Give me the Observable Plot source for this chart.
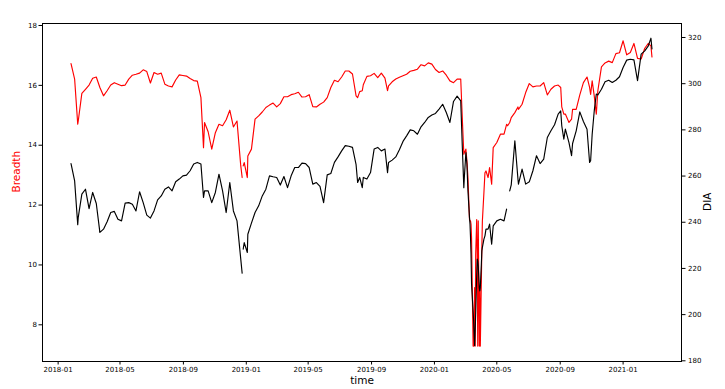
<!DOCTYPE html>
<html>
<head>
<meta charset="utf-8">
<script src="https://cdn.jsdelivr.net/npm/d3@7"></script>
<script src="https://cdn.jsdelivr.net/npm/@observablehq/plot@0.6"></script>
<style>
  body { margin: 0; background: #fff; }
</style>
</head>
<body>
<div id="chart"></div>
<script>
const dates = [
"2018-01-26","2018-02-02","2018-02-08","2018-02-09","2018-02-16","2018-02-23","2018-03-02","2018-03-09","2018-03-16","2018-03-23",
"2018-03-30","2018-04-06","2018-04-13","2018-04-20","2018-04-27","2018-05-04","2018-05-11","2018-05-18","2018-05-25","2018-06-01",
"2018-06-08","2018-06-15","2018-06-22","2018-06-29","2018-07-06","2018-07-13","2018-07-20","2018-07-27","2018-08-03","2018-08-10",
"2018-08-17","2018-08-24","2018-08-31","2018-09-07","2018-09-14","2018-09-21","2018-09-28","2018-10-05","2018-10-10","2018-10-12",
"2018-10-19","2018-10-26","2018-11-02","2018-11-09","2018-11-16","2018-11-23","2018-11-30","2018-12-07","2018-12-14","2018-12-21",
"2018-12-24","2018-12-25","2018-12-26","2018-12-28","2019-01-03","2019-01-04","2019-01-11","2019-01-18","2019-01-25","2019-02-01",
"2019-02-08","2019-02-15","2019-02-22","2019-03-01","2019-03-08","2019-03-15","2019-03-22","2019-03-29","2019-04-05","2019-04-12",
"2019-04-19","2019-04-26","2019-05-03","2019-05-10","2019-05-17","2019-05-24","2019-05-31","2019-06-07","2019-06-14","2019-06-21",
"2019-06-28","2019-07-05","2019-07-12","2019-07-19","2019-07-26","2019-08-02","2019-08-05","2019-08-09","2019-08-14","2019-08-16",
"2019-08-23","2019-08-30","2019-09-06","2019-09-13","2019-09-20","2019-09-27","2019-10-02","2019-10-04","2019-10-11","2019-10-18",
"2019-10-25","2019-11-01","2019-11-08","2019-11-15","2019-11-22","2019-11-29","2019-12-06","2019-12-13","2019-12-20","2019-12-27",
"2020-01-03","2020-01-10","2020-01-17","2020-01-24","2020-01-31","2020-02-07","2020-02-14","2020-02-21","2020-02-24","2020-02-27",
"2020-02-28","2020-03-02","2020-03-04","2020-03-06","2020-03-09","2020-03-10","2020-03-11","2020-03-12","2020-03-13","2020-03-16",
"2020-03-17","2020-03-19","2020-03-20","2020-03-21","2020-03-23","2020-03-24","2020-03-25","2020-03-26","2020-03-28","2020-03-29",
"2020-03-30","2020-04-01","2020-04-02","2020-04-03","2020-04-06","2020-04-08","2020-04-10","2020-04-14","2020-04-17","2020-04-21",
"2020-04-24","2020-05-01","2020-05-08","2020-05-15","2020-05-20","2020-05-22","2020-05-26","2020-05-29","2020-06-05","2020-06-11",
"2020-06-12","2020-06-19","2020-06-26","2020-07-03","2020-07-10","2020-07-17","2020-07-24","2020-07-31","2020-08-07","2020-08-14",
"2020-08-21","2020-08-28","2020-09-02","2020-09-04","2020-09-08","2020-09-11","2020-09-18","2020-09-23","2020-09-25","2020-10-02",
"2020-10-09","2020-10-16","2020-10-23","2020-10-28","2020-10-30","2020-11-02","2020-11-06","2020-11-10","2020-11-13","2020-11-20",
"2020-11-27","2020-12-04","2020-12-11","2020-12-18","2020-12-25","2021-01-01","2021-01-08","2021-01-15","2021-01-22","2021-01-29",
"2021-02-05","2021-02-12","2021-02-19","2021-02-24","2021-02-26"
];

const breadth = [
16.73,16.21,14.70,14.81,15.73,15.87,16.01,16.24,16.28,15.93,
15.65,15.82,16.01,16.09,16.04,15.99,16.01,16.21,16.34,16.37,
16.41,16.52,16.46,16.08,16.43,16.37,16.41,16.04,15.98,15.95,
16.18,16.35,16.33,16.31,16.23,16.16,16.14,15.59,13.92,14.76,
14.45,13.87,14.42,14.70,14.65,14.85,15.17,14.61,14.81,13.36,
12.92,null,13.31,13.42,12.92,13.64,13.87,14.87,14.98,15.11,
15.26,15.34,15.41,15.28,15.39,15.62,15.62,15.69,15.72,15.77,
15.61,15.62,15.69,15.29,15.28,15.37,15.44,15.59,15.93,16.17,
16.12,16.28,16.48,16.48,16.38,15.65,15.59,15.79,15.82,16.02,
16.30,16.32,16.40,16.26,16.41,16.24,15.82,15.98,16.12,16.21,
16.27,16.32,16.37,16.47,16.50,16.54,16.69,16.65,16.75,16.71,
16.53,16.43,16.48,16.34,16.15,16.09,16.21,16.21,14.92,13.70,
13.75,13.87,13.48,12.92,11.52,11.47,11.47,11.36,10.91,7.29,
7.29,9.24,7.29,10.35,11.52,10.35,7.29,11.47,7.29,9.24,
7.29,9.46,10.58,11.47,12.42,13.08,13.14,12.92,13.25,12.70,
13.92,14.09,14.37,14.37,14.70,14.65,14.76,14.92,15.09,15.28,
15.20,15.37,15.76,16.06,15.95,15.98,15.98,16.09,15.68,15.87,
15.98,16.01,15.93,15.28,15.04,15.04,14.76,14.87,15.20,15.20,
15.68,16.09,16.28,15.93,15.70,16.15,15.65,15.04,15.82,16.62,
16.75,16.81,16.76,17.06,17.09,17.49,17.02,17.10,17.40,16.90,
16.88,17.24,17.40,17.32,16.95
];

const dia = [
265.4,257.9,238.9,242.1,252.2,254.3,245.9,252.9,248.1,235.6,
237.0,240.2,244.2,244.7,241.3,240.6,248.3,248.5,247.8,244.9,
253.2,248.5,243.1,241.8,244.9,249.7,251.4,254.3,255.3,253.6,
257.5,258.7,260.1,260.4,262.3,265.2,265.9,265.2,250.7,253.6,
253.6,248.5,252.9,260.8,253.6,244.2,257.2,244.9,240.6,224.7,
217.9,null,228.3,231.2,226.9,234.8,239.6,244.2,247.1,251.4,
254.3,260.1,259.7,259.4,256.1,259.8,255.0,260.1,263.7,263.7,
265.6,265.4,263.7,256.5,257.2,255.5,248.5,260.5,261.1,265.9,
268.3,270.9,273.2,272.9,272.4,264.9,257.2,259.4,255.0,259.4,
258.7,261.5,271.7,272.4,270.9,271.7,261.5,265.9,266.9,268.3,
271.4,275.0,277.4,280.0,279.6,278.1,281.3,283.2,285.4,286.4,
287.1,289.0,291.1,287.5,283.2,292.3,294.6,292.6,273.1,255.0,
259.4,270.2,265.2,253.6,242.1,239.2,233.4,226.2,213.2,201.6,
197.3,186.5,193.0,200.2,217.5,224.0,223.3,221.1,211.7,210.3,
211.7,221.8,227.6,229.1,232.7,234.1,237.0,237.0,239.2,230.5,
238.4,240.6,241.3,240.6,245.7,null,253.6,256.2,275.3,258.7,
256.5,263.0,256.5,257.5,262.3,268.8,265.4,267.3,276.7,279.6,
282.2,286.8,288.2,281.8,276.0,280.3,274.5,268.8,274.1,279.6,
287.8,283.6,280.3,265.9,266.6,278.1,288.2,295.5,295.1,297.6,
300.8,301.5,300.5,301.5,303.0,307.0,310.2,310.6,310.3,301.3,
312.8,314.2,316.4,319.7,315.0
];

const breadthTicks = [8, 10, 12, 14, 16, 18];
const diaTicks = [180, 200, 220, 240, 260, 280, 300, 320];
const timeTicks = ["2018-01","2018-05","2018-09","2019-01","2019-05","2019-09","2020-01","2020-05","2020-09","2021-01"];

const breadthDomain = [6.774, 18.067];
const diaDomain = [179.70, 326.06];
const diaToLeft = d3.scaleLinear(diaDomain, breadthDomain);

const rows = dates.map((d, i) => ({
  date: new Date(d),
  breadth: breadth[i],
  dia: dia[i] == null ? null : diaToLeft(dia[i])
}));

const chart = Plot.plot({
  width: 725,
  height: 389,
  marginLeft: 42,
  marginRight: 44,
  marginTop: 23,
  marginBottom: 28,
  style: {fontFamily: "DejaVu Sans", fontSize: "7px", background: "white", overflow: "visible"},
  x: {type: "utc", domain: [new Date(Date.UTC(2017, 11, 1, 16)), new Date(Date.UTC(2021, 3, 24, 7))], axis: null},
  y: {domain: breadthDomain, axis: null},
  marks: [
    Plot.line(rows, {x: "date", y: "breadth", stroke: "red", strokeWidth: 1.15}),
    Plot.line(rows, {x: "date", y: "dia", stroke: "black", strokeWidth: 1.15}),
    Plot.frame({stroke: "black", strokeWidth: 1}),
    Plot.axisX({ticks: timeTicks.map(t => new Date(t + "-01")), tickFormat: d3.utcFormat("%Y-%m"), tickSize: 3.5, tickPadding: 2, label: null}),
    Plot.axisY({anchor: "left", ticks: breadthTicks, tickSize: 3.5, tickPadding: 2, label: null}),
    Plot.axisY({anchor: "right", ticks: diaTicks.map(v => diaToLeft(v)), tickSize: 3.5, tickPadding: 3, label: null,
      tickFormat: v => String(Math.round(diaToLeft.invert(v)))}),
    Plot.text(["Breadth"], {text: d => d, frameAnchor: "left", dx: -26, rotate: -90, fill: "red", fontSize: 10.5}),
    Plot.text(["DIA"], {text: d => d, frameAnchor: "right", dx: 26, rotate: -90, fill: "black", fontSize: 10.5}),
    Plot.text(["time"], {text: d => d, frameAnchor: "bottom", dy: 22, fill: "black", fontSize: 10.5})
  ]
});
document.getElementById("chart").append(chart);
</script>
</body>
</html>
